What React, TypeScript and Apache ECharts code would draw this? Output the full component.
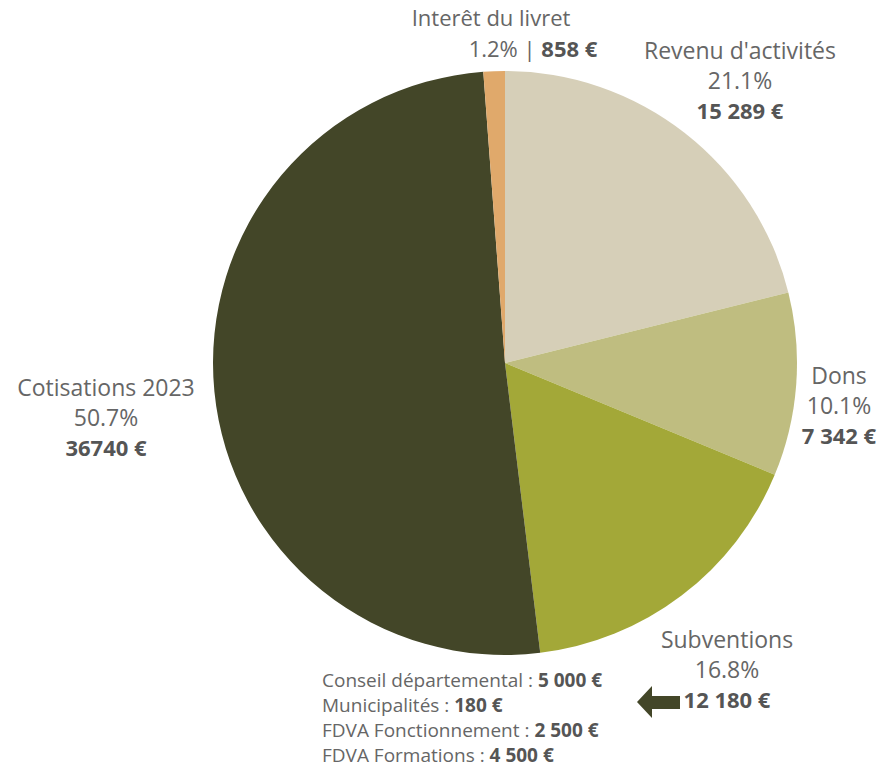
import React, { useEffect, useRef } from "react";
import * as echarts from "echarts";

const categories = ["Revenu d'activités", "Dons", "Subventions", "Cotisations 2023", "Interêt du livret"];
const values = [15289, 7342, 12180, 36740, 858];
const valueLabels = ["15 289 €", "7 342 €", "12 180 €", "36740 €", "858 €"];
const colors = ["#d6cfb8", "#bfbd80", "#a3a838", "#434628", "#e0a96b"];
const subCategories = ["Conseil départemental", "Municipalités", "FDVA Fonctionnement", "FDVA Formations"];
const subValueLabels = ["5 000 €", "180 €", "2 500 €", "4 500 €"];

const FONT = "'Open Sans', 'Noto Sans', sans-serif";
const GREY = "#666666";
const BOLD = "#555555";

export default function App() {
  const ref = useRef<HTMLDivElement>(null);
  useEffect(() => {
    if (!ref.current) return;
    const chart = echarts.init(ref.current, undefined, { renderer: "svg" });
    const total = values.reduce((a, b) => a + b, 0);
    const pct = values.map((v) => ((v / total) * 100).toFixed(1) + "%");

    const rich = {
      r: { fontFamily: FONT, fontSize: 23, fill: GREY, lineHeight: 30, align: "center" },
      b: { fontFamily: FONT, fontSize: 22, fill: BOLD, fontWeight: "bold", lineHeight: 30, align: "center" },
    };
    const richTight = {
      r: { fontFamily: FONT, fontSize: 22, fill: GREY, lineHeight: 24 },
      b: { fontFamily: FONT, fontSize: 22, fill: BOLD, fontWeight: "bold", lineHeight: 24 },
    };
    const block = (i: number, x: number, y: number) => ({
      type: "text",
      x,
      y,
      style: {
        text: `{r|${categories[i]}}\n{r|${pct[i]}}\n{b|${valueLabels[i]}}`,
        rich,
        align: "center",
        verticalAlign: "middle",
      },
    });

    const graphics: any[] = [
      block(0, 740, 80),
      block(1, 839, 405),
      block(2, 727, 669),
      block(3, 106, 417),
      {
        type: "text",
        x: 491,
        y: 17,
        style: {
          text: `{r|${categories[4]}}`,
          rich: richTight,
          align: "center",
          verticalAlign: "middle",
        },
      },
      {
        type: "text",
        x: 533,
        y: 48,
        style: {
          text: `{r|${pct[4]} | }{b|${valueLabels[4]}}`,
          rich: richTight,
          align: "center",
          verticalAlign: "middle",
        },
      },
      {
        type: "polygon",
        shape: {
          points: [
            [637, 702],
            [652, 686],
            [652, 696],
            [680, 696],
            [680, 709],
            [652, 709],
            [652, 718],
          ],
        },
        style: { fill: "#434628" },
      },
    ];
    subCategories.forEach((c, i) => {
      graphics.push({
        type: "text",
        x: 322,
        y: 680 + i * 25,
        style: {
          text: `{r|${c} : }{b|${subValueLabels[i]}}`,
          rich: {
            r: { fontFamily: FONT, fontSize: 19, fill: GREY },
            b: { fontFamily: FONT, fontSize: 19, fill: BOLD, fontWeight: "bold" },
          },
          align: "left",
          verticalAlign: "middle",
        },
      });
    });

    chart.setOption({
      animation: false,
      backgroundColor: "#ffffff",
      series: [
        {
          type: "pie",
          center: [505, 363],
          radius: [0, 292],
          startAngle: 90,
          clockwise: true,
          label: { show: false },
          labelLine: { show: false },
          itemStyle: { borderWidth: 0 },
          emphasis: { disabled: true },
          data: categories.map((c, i) => ({ name: c, value: values[i], itemStyle: { color: colors[i] } })),
        },
      ],
      graphic: graphics,
    });
    return () => chart.dispose();
  }, []);
  return <div ref={ref} style={{ position: "fixed", left: 0, top: 0, width: 893, height: 767 }} />;
}
